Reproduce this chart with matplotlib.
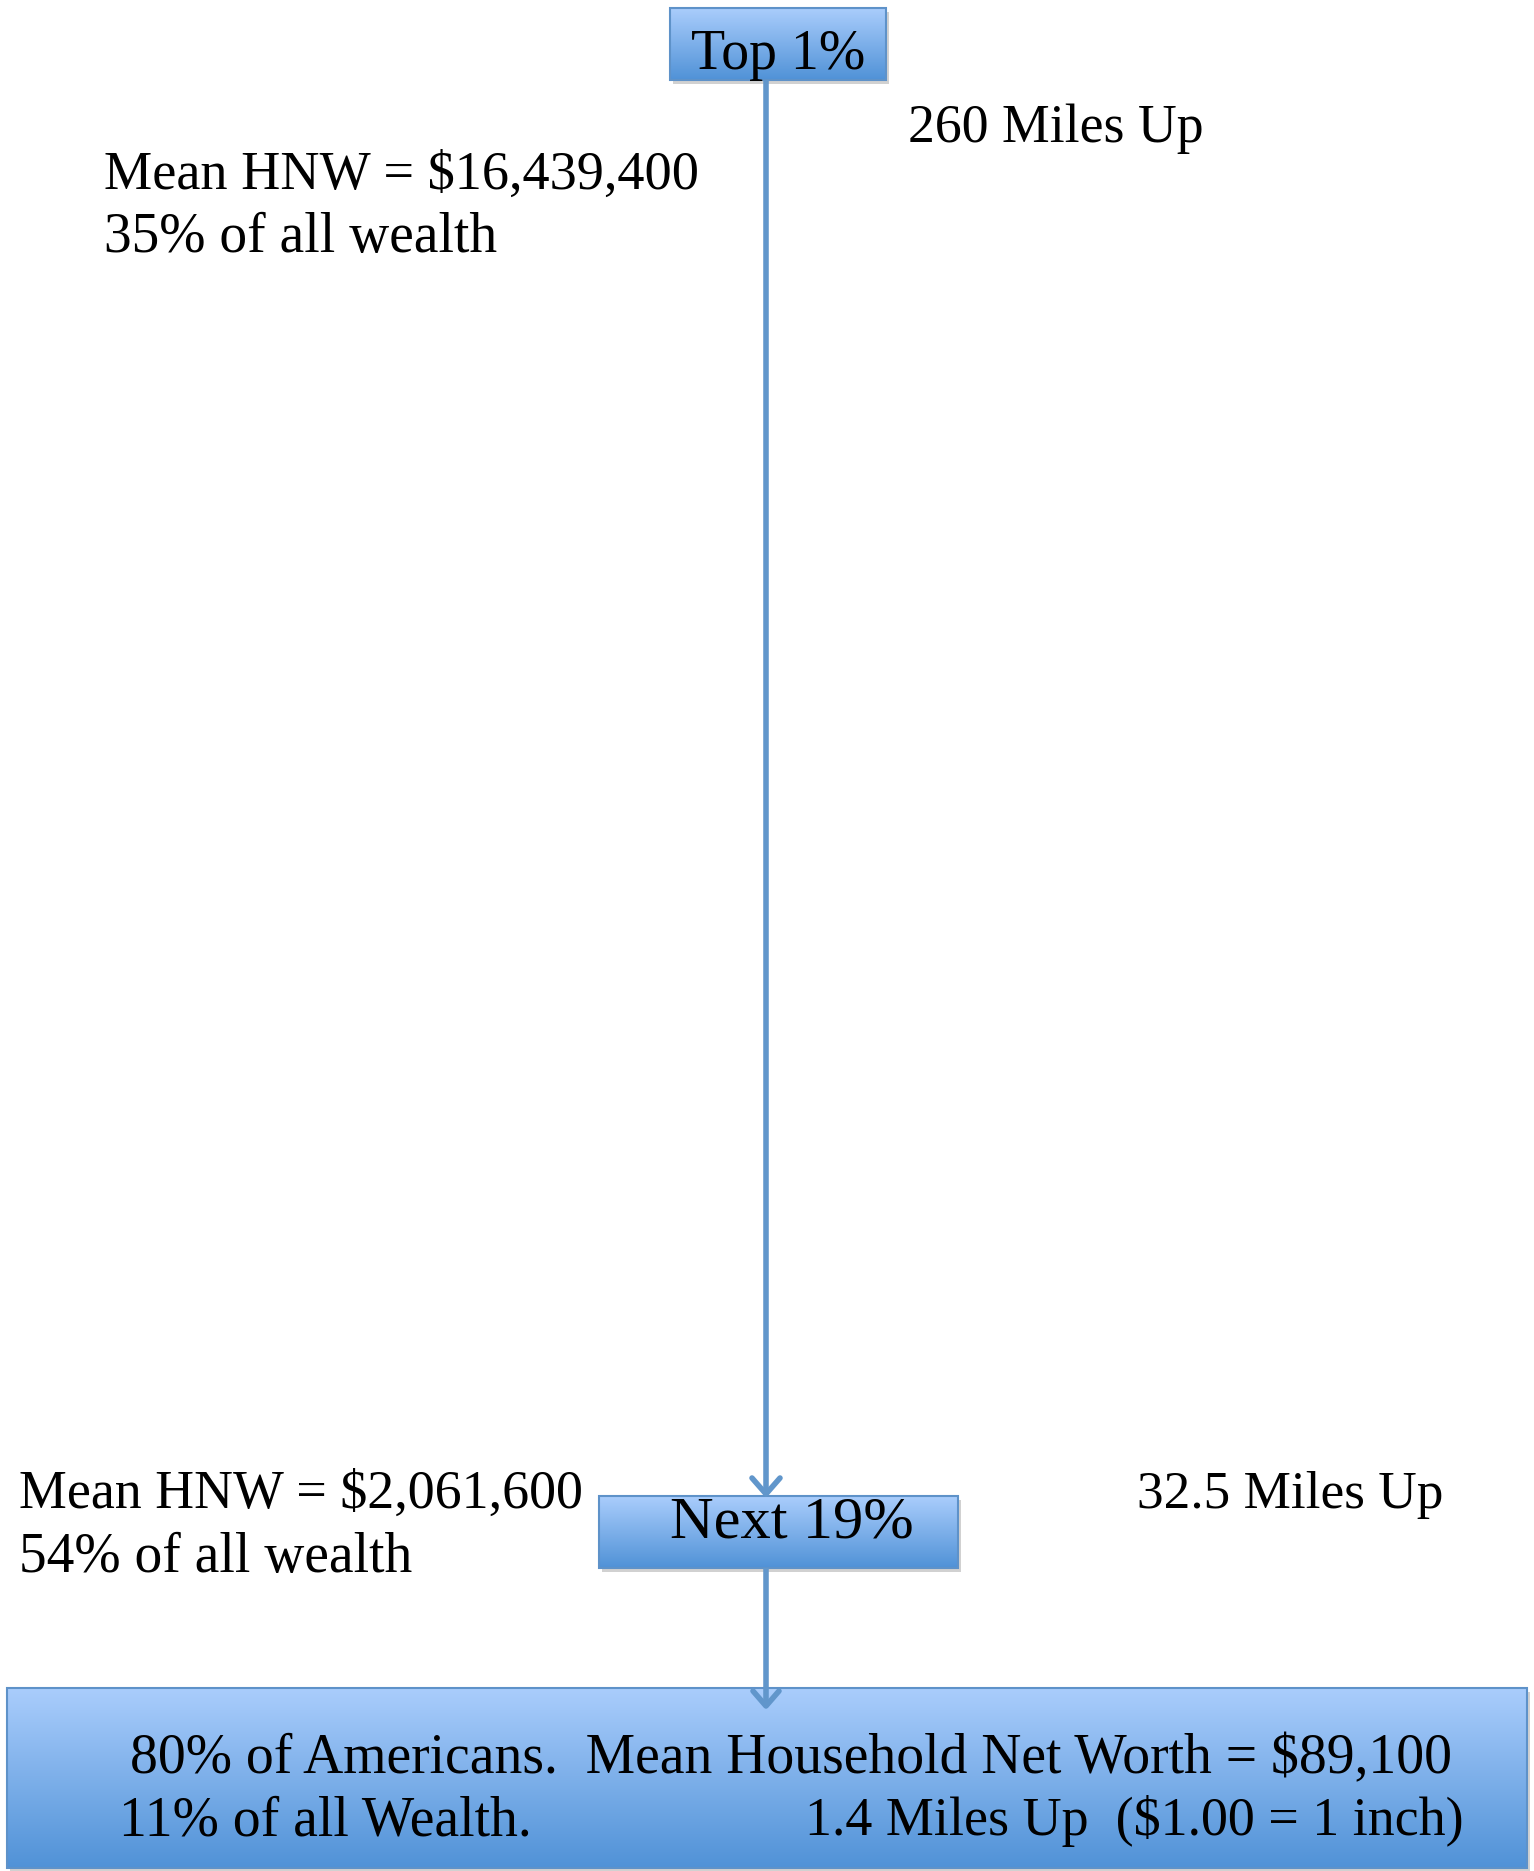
import matplotlib
matplotlib.use("Agg")
import matplotlib.pyplot as plt
import numpy as np
from matplotlib.patches import Rectangle

# ---- data ----
tiers = ["Top 1%", "Next 19%", "80% of Americans"]
mean_hnw = [16439400, 2061600, 89100]
wealth_share = [35, 54, 11]
miles_up = ["260", "32.5", "1.4"]
scale_note = "($1.00 = 1 inch)"

W, H = 1534, 1871
fig = plt.figure(figsize=(W / 100, H / 100), dpi=100)
ax = fig.add_axes([0, 0, 1, 1])
ax.set_xlim(0, W)
ax.set_ylim(H, 0)
ax.axis("off")

FONT = "Liberation Serif"
LINE_C = "#6196cb"
EDGE_C = "#5e92c9"
top_rgb = np.array([170, 205, 252]) / 255
bot_rgb = np.array([80, 146, 215]) / 255

fig.canvas.draw()
renderer = fig.canvas.get_renderer()

DY = 5


def fit_text(x, y, s, width, ha="left", va="center", z=5):
    t = ax.text(x, y + DY, s, fontsize=40, family=FONT, ha=ha, va=va, color="black", zorder=z)
    w = t.get_window_extent(renderer).width
    t.set_fontsize(40 * width / w)
    return t


def grad_box(x0, y0, x1, y1):
    # shadow
    ax.add_patch(Rectangle((x0 + 3, y0 + 4), x1 - x0, y1 - y0, facecolor="#000000",
                           alpha=0.18, edgecolor="none", zorder=1))
    grad = np.linspace(0, 1, 256)[:, None, None]
    img = top_rgb * (1 - grad) + bot_rgb * grad
    img = np.repeat(img, 2, axis=1)
    im = ax.imshow(img, extent=(x0, x1, y1, y0), origin="upper", zorder=2,
                   interpolation="bilinear")
    rect = Rectangle((x0, y0), x1 - x0, y1 - y0, facecolor="none",
                     edgecolor=EDGE_C, lw=1.5, zorder=3)
    ax.add_patch(rect)
    im.set_clip_path(rect)


# boxes
grad_box(670, 8, 886, 80)
grad_box(599, 1496, 958, 1568)
grad_box(7, 1688, 1527, 1868)
ax.set_aspect("auto")
ax.set_xlim(0, W)
ax.set_ylim(H, 0)

# connectors
LW = 4.0
ax.plot([766, 766], [80, 1494], color=LINE_C, lw=LW, zorder=4, solid_capstyle="butt")
ax.plot([752, 766, 780], [1478, 1494, 1478], color=LINE_C, lw=LW, zorder=4,
        solid_joinstyle="round", solid_capstyle="round")
ax.plot([766, 766], [1568, 1706], color=LINE_C, lw=LW, zorder=4, solid_capstyle="butt")
ax.plot([753, 766, 779], [1691, 1706, 1691], color=LINE_C, lw=LW, zorder=4,
        solid_joinstyle="round", solid_capstyle="round")

# texts
fit_text(778, 50, tiers[0], 174, ha="center")
fit_text(908, 124, f"{miles_up[0]} Miles Up", 295)
fit_text(104, 171, f"Mean HNW = ${mean_hnw[0]:,}", 594)
fit_text(104, 233, f"{wealth_share[0]}% of all wealth", 393)

fit_text(19, 1490, f"Mean HNW = ${mean_hnw[1]:,}", 564)
fit_text(19, 1553, f"{wealth_share[1]}% of all wealth", 393)
fit_text(792, 1519, tiers[1], 243, ha="center")
fit_text(1137, 1490, f"{miles_up[1]} Miles Up", 305)

fit_text(130, 1754, f"{tiers[2]}.  Mean Household Net Worth = ${mean_hnw[2]:,}", 1321)
fit_text(119, 1816, f"{wealth_share[2]}% of all Wealth.", 413)
fit_text(805, 1816, f"{miles_up[2]} Miles Up  {scale_note}", 658)

fig.savefig("out.png", dpi=100)
